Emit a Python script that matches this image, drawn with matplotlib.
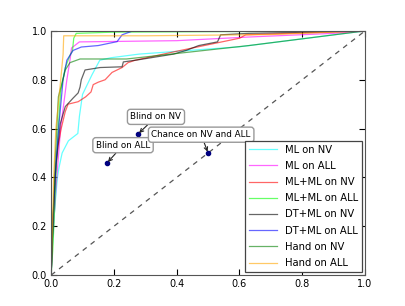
import matplotlib
matplotlib.use("Agg")
import matplotlib.pyplot as plt

# ROC curves
ml_nv_x = [0, 0.003, 0.01, 0.02, 0.025, 0.035, 0.055, 0.085, 0.09, 0.1, 0.13, 0.155, 0.19, 0.28, 0.6, 1.0]
ml_nv_y = [0, 0.1, 0.25, 0.4, 0.44, 0.5, 0.55, 0.58, 0.65, 0.74, 0.82, 0.88, 0.89, 0.905, 0.935, 1.0]

ml_all_x = [0, 0.005, 0.015, 0.03, 0.05, 0.06, 0.065, 0.09, 0.4, 0.63, 0.9, 1.0]
ml_all_y = [0, 0.15, 0.35, 0.6, 0.8, 0.88, 0.93, 0.955, 0.96, 0.975, 0.99, 1.0]

mlml_nv_x = [0, 0.005, 0.012, 0.022, 0.032, 0.045, 0.054, 0.086, 0.11, 0.127, 0.134, 0.15,
             0.172, 0.194, 0.226, 0.245, 0.268, 0.39, 0.6, 0.62, 1.0]
mlml_nv_y = [0, 0.2, 0.4, 0.53, 0.6, 0.67, 0.7, 0.71, 0.73, 0.75, 0.78, 0.79,
             0.8, 0.83, 0.85, 0.87, 0.88, 0.914, 0.97, 0.984, 1.0]

mlml_all_x = [0, 0.005, 0.012, 0.02, 0.03, 0.045, 0.06, 0.068, 0.072, 0.08, 0.2, 1.0]
mlml_all_y = [0, 0.1, 0.3, 0.55, 0.75, 0.85, 0.9, 0.92, 0.97, 0.99, 0.995, 1.0]

dtml_nv_x = [0, 0.005, 0.015, 0.029, 0.045, 0.07, 0.086, 0.092, 0.096, 0.108, 0.156, 0.226,
             0.23, 0.274, 0.39, 0.43, 0.47, 0.53, 0.54, 0.63, 1.0]
dtml_nv_y = [0, 0.2, 0.45, 0.62, 0.69, 0.725, 0.746, 0.77, 0.8, 0.84, 0.85, 0.853,
             0.873, 0.881, 0.905, 0.92, 0.94, 0.955, 0.984, 0.99, 1.0]

dtml_all_x = [0, 0.005, 0.015, 0.025, 0.038, 0.05, 0.07, 0.096, 0.15, 0.21, 0.226, 0.26, 1.0]
dtml_all_y = [0, 0.2, 0.45, 0.62, 0.8, 0.88, 0.92, 0.934, 0.94, 0.956, 0.984, 1.0, 1.0]

hand_nv_x = [0, 0.004, 0.012, 0.023, 0.045, 0.06, 0.092, 0.24, 0.63, 1.0]
hand_nv_y = [0, 0.15, 0.45, 0.73, 0.84, 0.87, 0.885, 0.885, 0.94, 1.0]

hand_all_x = [0, 0.002, 0.008, 0.015, 0.031, 0.038, 0.04, 0.3, 0.7, 1.0]
hand_all_y = [0, 0.1, 0.4, 0.6, 0.807, 0.903, 0.98, 0.98, 0.985, 1.0]

curves = [
    ("ML on NV", ml_nv_x, ml_nv_y, "cyan"),
    ("ML on ALL", ml_all_x, ml_all_y, "magenta"),
    ("ML+ML on NV", mlml_nv_x, mlml_nv_y, "red"),
    ("ML+ML on ALL", mlml_all_x, mlml_all_y, "lime"),
    ("DT+ML on NV", dtml_nv_x, dtml_nv_y, "black"),
    ("DT+ML on ALL", dtml_all_x, dtml_all_y, "blue"),
    ("Hand on NV", hand_nv_x, hand_nv_y, "green"),
    ("Hand on ALL", hand_all_x, hand_all_y, "orange"),
]

# single points with their labels
point_labels = ["Blind on NV", "Blind on ALL", "Chance on NV and ALL"]
point_x = [0.277, 0.178, 0.5]
point_y = [0.578, 0.459, 0.5]
label_x = [0.334, 0.229, 0.478]
label_y = [0.648, 0.532, 0.575]

plt.rcParams['font.size'] = 7.2
fig = plt.figure(figsize=(4.06, 3.06), dpi=100)
ax = fig.add_axes([0.126, 0.101, 0.773, 0.798])

ax.plot([0, 1], [0, 1], '--', color='#555555', lw=0.9, dashes=(4, 4))
for name, xs, ys, col in curves:
    ax.plot(xs, ys, color=col, alpha=0.6, lw=0.9, label=name)

ax.plot(point_x, point_y, 'o', color='navy', ms=3)
for lab, px, py, tx, ty in zip(point_labels, point_x, point_y, label_x, label_y):
    ax.annotate(lab, xy=(px, py), xytext=(tx, ty), ha='center', va='center',
                fontsize=6.3,
                bbox=dict(boxstyle='round,pad=0.35', fc='white', ec='#999999'),
                arrowprops=dict(arrowstyle='->', color='#222222', lw=0.8,
                                shrinkA=0, shrinkB=1))

ax.set_xlim(0, 1)
ax.set_ylim(0, 1)
ax.set_xticks([0, 0.2, 0.4, 0.6, 0.8, 1.0])
ax.set_yticks([0, 0.2, 0.4, 0.6, 0.8, 1.0])
ax.tick_params(direction='in', top=True, right=True, length=4, pad=3, labelsize=7)
for s in ax.spines.values():
    s.set_color('#555555')

leg = ax.legend(loc='lower right', fancybox=False, framealpha=1,
                edgecolor='#444444', handlelength=2.8, labelspacing=0.62,
                borderaxespad=0.3)
leg.get_frame().set_linewidth(0.9)

fig.savefig("out.png", dpi=100)
